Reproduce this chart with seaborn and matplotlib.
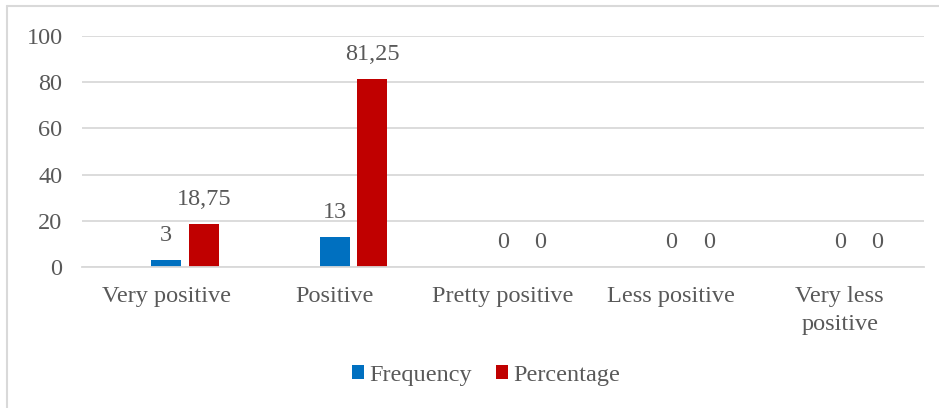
import matplotlib
matplotlib.use("Agg")
import matplotlib.pyplot as plt
from matplotlib.patches import Patch
from matplotlib.lines import Line2D
import seaborn as sns
import pandas as pd

categories = ["Very positive", "Positive", "Pretty positive", "Less positive", "Very less\npositive"]
frequency = [3, 13, 0, 0, 0]
percentage = [18.75, 81.25, 0, 0, 0]
y_ticks = [0, 20, 40, 60, 80, 100]

BLUE = "#0070C0"
RED = "#C00000"
GRID = "#D9D9D9"
TEXT = "#595959"
FS = 17.5

sns.set_theme(style="white")
plt.rcParams["font.serif"] = ["Liberation Serif", "DejaVu Serif"]
plt.rcParams["font.family"] = ["Liberation Serif", "DejaVu Serif"]

# Long-format table; an empty leading series keeps the group layout of the source chart
rows = []
for c, f, p in zip(categories, frequency, percentage):
    rows.append({"category": c, "series": "Series", "value": 0.0})
    rows.append({"category": c, "series": "Frequency", "value": f})
    rows.append({"category": c, "series": "Percentage", "value": p})
df = pd.DataFrame(rows)

fig = plt.figure(figsize=(9.39, 4.08), dpi=100)
ax = fig.add_axes([82 / 939, 1 - 267 / 408, (924 - 82) / 939, (267 - 36) / 408])

sns.barplot(
    data=df, x="category", y="value", hue="series",
    hue_order=["Series", "Frequency", "Percentage"],
    palette={"Series": "white", "Frequency": BLUE, "Percentage": RED},
    saturation=1, width=0.668, gap=0.2, errorbar=None, legend=False, ax=ax,
    linewidth=0,
)

# value labels above the two visible series
for container, vals in zip(ax.containers[1:], [frequency, percentage]):
    labels = [f"{v:g}".replace(".", ",") for v in vals]
    ax.bar_label(container, labels=labels, padding=10, fontsize=FS, color=TEXT,
                 family="Liberation Serif")

ax.set_ylim(0, 100)
ax.set_yticks(y_ticks)
ax.set_xlim(-0.5, len(categories) - 0.5)
ax.yaxis.grid(True, color=GRID, linewidth=1.3)
ax.set_axisbelow(True)
for side in ["top", "right", "left"]:
    ax.spines[side].set_visible(False)
ax.spines["bottom"].set_color(GRID)
ax.spines["bottom"].set_linewidth(1.3)
ax.tick_params(axis="both", length=0, labelsize=FS, colors=TEXT)
ax.tick_params(axis="x", pad=14, labelcolor=TEXT)
ax.tick_params(axis="y", pad=14)
ax.set_xlabel("")
ax.set_ylabel("")
for lbl in ax.get_xticklabels() + ax.get_yticklabels():
    lbl.set_family("Liberation Serif")
    lbl.set_linespacing(1.4)

handles = [Patch(facecolor=BLUE, edgecolor="none"), Patch(facecolor=RED, edgecolor="none")]
fig.legend(
    handles, ["Frequency", "Percentage"], loc="center",
    bbox_to_anchor=(486 / 939, 1 - 375 / 408), ncol=2, frameon=False,
    prop={"family": "Liberation Serif", "size": FS}, labelcolor=TEXT,
    handlelength=0.5, handleheight=0.5, handletextpad=0.2, columnspacing=1.0,
)

# chart frame (top and left edges)
fig.add_artist(Line2D([7 / 939, 1.0], [1 - 6 / 408, 1 - 6 / 408], transform=fig.transFigure,
                      color=GRID, linewidth=1.5))
fig.add_artist(Line2D([7 / 939, 7 / 939], [0.0, 1 - 6 / 408], transform=fig.transFigure,
                      color=GRID, linewidth=1.5))

fig.savefig("out.png", dpi=100)
